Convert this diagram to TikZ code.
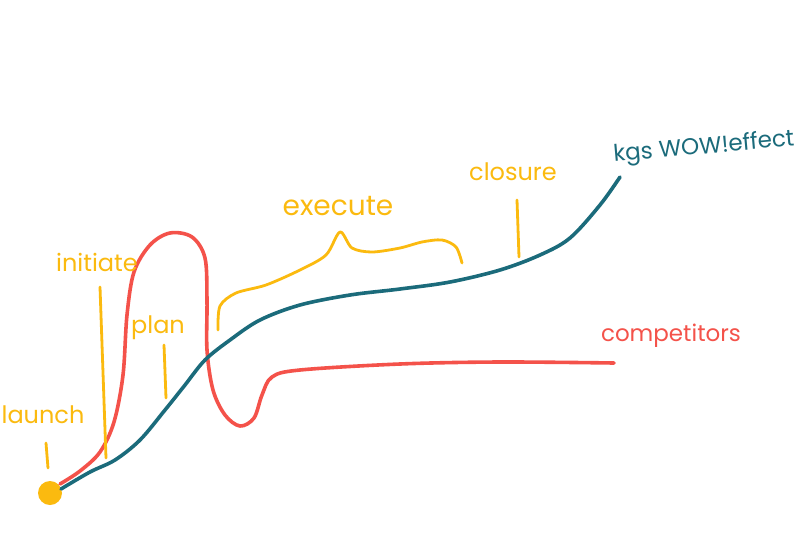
\documentclass[tikz,border=0pt]{standalone}
\usepackage{fontspec}
\setmainfont{Poppins}
\definecolor{yel}{HTML}{FBBA0F}
\definecolor{rd}{HTML}{F4524A}
\definecolor{tl}{HTML}{1B6B7B}
\begin{document}
\begin{tikzpicture}[x=1pt,y=-1pt,
  lbl/.style={font=\fontsize{24}{26}\selectfont, inner sep=0pt},
  lbls/.style={font=\fontsize{23}{26}\selectfont, inner sep=0pt},
  yline/.style={yel, line width=2.8pt, line cap=round, line join=round},
  rline/.style={rd, line width=3.6pt, line cap=round, line join=round},
  tline/.style={tl, line width=3.6pt, line cap=round, line join=round}]
\useasboundingbox[fill=white] (0,0) rectangle (800,533);
% dot
\node[circle, fill=yel, minimum size=24pt, inner sep=0pt] (dot) at (50,493) {};
% red curve
\draw[rline] plot[smooth, tension=0.55] coordinates {(60,484) (80,471) (100,452) (114,422) (123,375) (127,315) (134,272) (150,245) (170,233) (192,237) (205,258) (207,300) (207,350) (213,390) (225,415) (240,426) (254,418) (262,395) (272,377) (300,370) (400,364) (500,362) (614,363)};
% teal curve
\draw[tline] plot[smooth, tension=0.55] coordinates {(61,489) (90,472) (115,460) (140,440) (165,410) (185,385) (205,360) (230,340) (260,320) (300,305) (350,295) (400,289) (450,282) (500,270) (540,255) (570,238) (600,205) (620,177)};
% yellow ticks
\draw[yline] (46,443) -- (48,468);
\draw[yline] (100,287) -- (106,458);
\draw[yline] (164,345) -- (166,398);
\draw[yline] (517,200) -- (519,257);
% execute brace
\draw[yline] plot[smooth, tension=0.5] coordinates {(218,330) (220,306) (236,293) (266,285) (300,270) (326,255) (340,232) (352,248) (372,252) (400,248) (422,242) (442,240) (456,247) (462,263)};
% labels
\node[lbl, text=yel] (launch) at (43,415) {launch};
\node[lbl, text=yel] (initiate) at (97,262) {initiate};
\node[lbl, text=yel] (plan) at (158,328) {plan};
\node[lbl, text=yel, font=\fontsize{28}{30}\selectfont] (execute) at (338,206) {execute};
\node[lbl, text=yel] (closure) at (513,172) {closure};
\node[lbls, text=tl, rotate=5] (wow) at (704,148) {kgs WOW!effect};
\node[lbls, text=rd] (comp) at (671,336) {competitors};
\end{tikzpicture}
\end{document}
